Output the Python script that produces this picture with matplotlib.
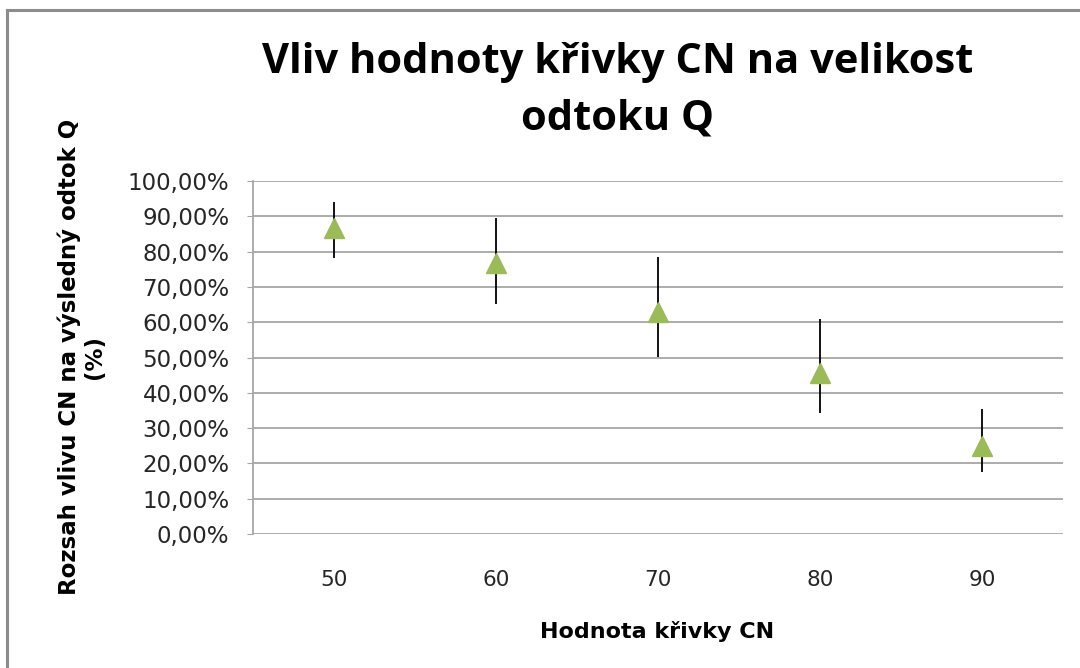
import matplotlib
matplotlib.use("Agg")
import matplotlib.pyplot as plt
from matplotlib.lines import Line2D
from matplotlib.ticker import FuncFormatter
import numpy as np

# values (fractions of 1)
cn_values = ["50", "60", "70", "80", "90"]
mean_effect = [0.867, 0.768, 0.629, 0.456, 0.249]
upper_bound = [0.940, 0.895, 0.785, 0.609, 0.354]
lower_bound = [0.782, 0.652, 0.501, 0.343, 0.176]
y_ticks = [0.0, 0.1, 0.2, 0.3, 0.4, 0.5, 0.6, 0.7, 0.8, 0.9, 1.0]

_MARKER_COLOR = "#9BBB59"
_GRID_COLOR = "#A6A6A6"

fig = plt.figure(figsize=(10.8, 6.68), dpi=100)
ax = fig.add_axes([253 / 1080, 1 - 534 / 668, 810 / 1080, 353 / 668])

x = np.arange(len(cn_values))
mean = np.asarray(mean_effect)
yerr = np.vstack([mean - np.asarray(lower_bound), np.asarray(upper_bound) - mean])

ax.errorbar(x, mean, yerr=yerr, fmt="none", ecolor="black", elinewidth=1.3, capsize=0, zorder=3)
ax.plot(x, mean, linestyle="none", marker="^", markersize=15, color=_MARKER_COLOR,
        markeredgecolor=_MARKER_COLOR, zorder=4)

ax.set_xlim(-0.5, len(cn_values) - 0.5)
ax.set_ylim(0, 1.0)
ax.set_xticks(x)
ax.set_xticklabels(cn_values)
ax.set_yticks(y_ticks)
ax.yaxis.set_major_formatter(FuncFormatter(lambda v, _: f"{v * 100:.2f}".replace(".", ",") + "%"))
ax.grid(axis="y", color=_GRID_COLOR, linewidth=1.3)
ax.set_axisbelow(True)

for side in ("top", "right", "bottom"):
    ax.spines[side].set_visible(False)
ax.spines["left"].set_color(_GRID_COLOR)
ax.spines["left"].set_linewidth(1.3)
ax.tick_params(axis="x", length=0, pad=26, labelsize=15.5, labelcolor="#262626")
ax.tick_params(axis="y", length=4, color=_GRID_COLOR, pad=13, labelsize=16.5, labelcolor="#262626")

fig.text(0.572, 1 - 91 / 668, "Vliv hodnoty křivky CN na velikost\nodtoku Q", ha="center", va="center",
         fontsize=30, fontweight="bold", family=["Open Sans", "DejaVu Sans"], linespacing=1.5)
fig.text(82 / 1080, 1 - 357 / 668, "Rozsah vlivu CN na výsledný odtok Q\n(%)", ha="center", va="center",
         rotation=90, fontsize=16.5, fontweight="bold", linespacing=1.1)
fig.text(657 / 1080, 1 - 632 / 668, "Hodnota křivky CN", ha="center", va="center",
         fontsize=16, fontweight="bold", family=["Liberation Sans Narrow", "DejaVu Sans"])

# chart-area frame (top and left edges visible in the reference)
frame_color = "#8C8C8C"
fig.add_artist(Line2D([7 / 1080, 1.0], [1 - 10 / 668, 1 - 10 / 668], color=frame_color, linewidth=2.2))
fig.add_artist(Line2D([7 / 1080, 7 / 1080], [0.0, 1 - 10 / 668], color=frame_color, linewidth=2.2))

fig.savefig("out.png", dpi=100)
